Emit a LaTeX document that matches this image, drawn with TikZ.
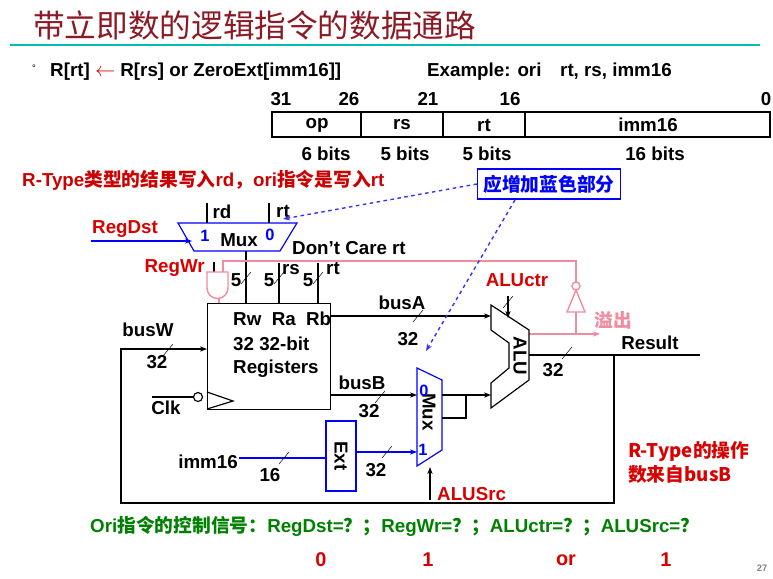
\documentclass[tikz,border=0pt]{standalone}
\usepackage{fontspec}
\setmainfont{Liberation Sans}
\newfontfamily\cjk{Noto Sans CJK SC}
\usetikzlibrary{positioning,arrows.meta,calc}
\definecolor{titlered}{RGB}{140,25,35}
\definecolor{teal}{RGB}{0,190,180}
\definecolor{pinkw}{RGB}{240,140,160}
\definecolor{darkgreen}{RGB}{0,128,0}
\tikzset{
  txt/.style={font=\bfseries\fontsize{16}{18}\selectfont, inner sep=0pt},
  redtxt/.style={txt, text=red!85!black},
  bluetxt/.style={txt, text=blue},
  wire/.style={line width=1pt},
  bluewire/.style={line width=1pt, draw=blue},
  pinkwire/.style={line width=1.2pt, draw=pinkw},
  arr/.style={-{Stealth[length=6pt]}},
  note/.style={dashed, line width=1.2pt, draw=blue!80!white, -{Stealth[length=6pt]}},
  serifnum/.style={font=\bfseries\fontsize{14}{16}\selectfont\rmfamily, text=blue, inner sep=0pt}
}
\newcommand{\busslash}[1]{\draw[thin] ($(#1)+(-5,6)$) -- ($(#1)+(5,-6)$);}
\begin{document}
\begin{tikzpicture}[x=0.03cm,y=-0.03cm]
\useasboundingbox (0,0) rectangle (773,578);
% title
\node[anchor=west, inner sep=0pt, text=titlered, font=\cjk\fontsize{27}{30}\selectfont] (title) at (33,25) {带立即数的逻辑指令的数据通路};
\draw[teal, line width=1.5pt] (10,45) -- (760,45);
\node[txt, font=\fontsize{8}{8}\selectfont] (bul) at (34,68) {°};
\node[txt, anchor=west] (rtl) at (50,72) {R[rt] {\color{red!80!black}$\leftarrow$} R[rs] or ZeroExt[imm16]]};
\node[txt, anchor=west] (ex) at (427,72) {Example: ori\quad rt, rs, imm16};
% instruction format
\draw[line width=1.2pt] (272,112) rectangle (770,137);
\foreach \x in {361,443,525} \draw[line width=1.2pt] (\x,112) -- (\x,137);
\foreach \x/\t in {317/op,402/rs,484/rt,648/imm16} \node[txt] at (\x,125) {\t};
\foreach \x/\t in {281/31,349/26,428/21,510/16,766/0} \node[txt] at (\x,99) {\t};
\foreach \x/\t in {326/6 bits,405/5 bits,487/5 bits,655/16 bits} \node[txt] at (\x,154) {\t};
\node[redtxt, anchor=west, text=red!80!black] (rnote) at (22,180) {R-Type{\cjk 类型的结果写入}rd{\cjk ，}ori{\cjk 指令是写入}rt};
\node[draw=blue, line width=1pt, inner sep=5pt, text=blue, font=\cjk\bfseries\fontsize{16}{18}\selectfont] (addbox) at (549,184) {应增加蓝色部分};
% RegDst mux
\draw[bluewire] (178,223) -- (297,223) -- (280,251) -- (194,251) -- cycle;
\coordinate (mux1out) at (246,251);
\draw[wire] (207,203) -- (207,223);
\draw[wire] (269,203) -- (269,223);
\node[txt] at (222,212) {rd};
\node[txt] (rtin) at (283,211) {rt};
\node[serifnum] at (205,236) {1};
\node[txt] at (239,240) {Mux};
\node[serifnum] at (270,235) {0};
\node[redtxt, anchor=west] (regdst) at (92,229) {RegDst};
\draw[bluewire, arr] (91,241) -- (192,241);
\node[txt, anchor=west] (dc) at (292,248) {Don’t Care rt};
% register file
\node[draw, line width=1pt, minimum width=123*0.03cm, minimum height=106*0.03cm, anchor=north west] (rf) at (207,303) {};
\node[txt, anchor=west] at (233,319) {Rw\ \ Ra\ \ Rb};
\node[txt, anchor=west] at (233,344) {32 32-bit};
\node[txt, anchor=west] at (233,369) {Registers};
\draw[wire] (mux1out) -- (246,303);
\draw[wire] (279,263) -- (279,303);
\draw[wire] (318,263) -- (318,303);
\busslash{246,278} \busslash{279,278} \busslash{318,278}
\node[txt] at (236,280) {5};
\node[txt] at (269,280) {5};
\node[txt] at (308,280) {5};
\node[txt] at (291,270) {rs};
\node[txt] at (333,268) {rt};
% clock
\draw[wire] (207,392) -- (233,401) -- (207,409);
\draw[wire] (152,397) -- (193,397);
\node[draw, circle, line width=1pt, inner sep=0pt, minimum size=9*0.03cm] (bub) at (198,397) {};
\node[txt] at (166,408) {Clk};
% RegWr and gate
\node[redtxt, anchor=east] (regwr) at (205,268) {RegWr};
\draw[wire] (214,262) -- (214,272);
\draw[pinkwire] (207,272) -- (228,272) -- (228,288) arc (0:180:10.5) -- cycle;
\draw[pinkwire] (219,298.5) -- (219,303);
\draw[pinkwire] (223,272) -- (223,261) -- (576,261) -- (576,282);
\node[draw=pinkw, circle, line width=1.2pt, inner sep=0pt, minimum size=8*0.03cm] (inv) at (576,286) {};
\draw[pinkwire] (567,312) -- (585,312) -- (576,290) -- cycle;
\draw[pinkwire] (576,312) -- (576,334);
\draw[pinkwire, arr] (529,334) -- (600,334);
\node[txt, text=pinkw, font=\cjk\bfseries\fontsize{16}{18}\selectfont] (ovf) at (613,320) {溢出};
% ALU
\draw[wire] (491,305) -- (529,330) -- (529,380) -- (491,408) -- (491,383) -- (509,368) -- (509,343) -- (491,330) -- cycle;
\node[txt, rotate=-90] (alu) at (520,356) {ALU};
\node[redtxt] (aluctr) at (517,280) {ALUctr};
\draw[wire, arr] (508,296) -- (508,318);
\busslash{508,302}
% busA
\draw[wire, arr] (330,316) -- (491,316);
\node[txt] at (402,303) {busA};
\busslash{418,316}
\node[txt] at (408,339) {32};
% result and feedback
\draw[wire] (529,355) -- (700,355);
\node[txt] (res) at (650,343) {Result};
\busslash{567,353}
\node[txt] at (553,370) {32};
\draw[wire, arr] (614,355) -- (614,503) -- (121,503) -- (121,349) -- (207,349);
\node[txt] at (148,330) {busW};
\busslash{168,350}
\node[txt] at (157,362) {32};
% busB and ALUSrc mux
\draw[wire, arr] (330,395) -- (417,395);
\draw[wire, arr] (442,395) -- (491,395);
\node[txt] at (362,383) {busB};
\busslash{380,397}
\node[txt] at (369,411) {32};
\draw[bluewire] (417,368) -- (442,380) -- (442,450) -- (417,466) -- cycle;
\draw[wire] (442,418) -- (466,418) -- (466,395);
\node[txt, rotate=-90] (mux2) at (429,412) {Mux};
\node[serifnum] at (424,391) {0};
\node[serifnum] at (423,450) {1};
% Ext
\node[draw=blue, line width=1.2pt, minimum width=30*0.03cm, minimum height=70*0.03cm] (ext) at (341,456) {};
\node[txt, rotate=-90] at (341,456) {Ext};
\node[txt] (imm) at (208,462) {imm16};
\draw[bluewire] (239,458) -- (326,458);
\busslash{284,458}
\node[txt] at (270,475) {16};
\draw[bluewire, arr] (356,452) -- (417,452);
\busslash{387,452}
\node[txt] at (376,470) {32};
\node[redtxt, anchor=west] (alusrc) at (437,494) {ALUSrc};
\draw[wire, arr] (430,500) -- (430,467);
% notes
\draw[note] (addbox.west) -- (283,219);
\draw[note] (515,200) -- (426,351);
\node[redtxt, anchor=west, font=\cjk\bfseries\fontsize{16}{18}\selectfont] at (628,452) {R-Type的操作};
\node[redtxt, anchor=west, font=\cjk\bfseries\fontsize{16}{18}\selectfont] at (628,474) {数来自busB};
% control signals
\node[txt, text=darkgreen, anchor=west] (ctrl) at (90,526) {Ori{\cjk 指令的控制信号：}RegDst={\cjk ？；}RegWr={\cjk ？；}ALUctr={\cjk ？；}ALUSrc={\cjk ？}};
\foreach \x/\t in {321/0,428/1,566/or,666/1} \node[redtxt, font=\bfseries\fontsize{17}{20}\selectfont] at (\x,560) {\t};
\node[inner sep=0pt, text=gray, font=\bfseries\fontsize{8}{10}\selectfont] at (762,568) {27};
\end{tikzpicture}
\end{document}
